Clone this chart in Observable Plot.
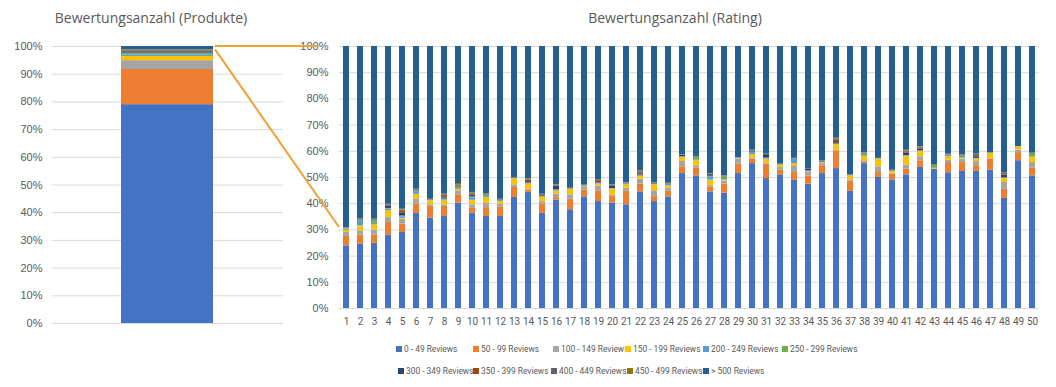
<!DOCTYPE html>
<html><head><meta charset="utf-8">
<script src="https://cdn.jsdelivr.net/npm/d3@7"></script>
<script src="https://cdn.jsdelivr.net/npm/@observablehq/plot@0.6"></script>
<style>
body{margin:0;background:#fff;}
#wrap{position:relative;width:1056px;height:387px;overflow:hidden;background:#fff;font-family:"Liberation Sans",Arial,sans-serif;}
.title{position:absolute;top:8px;width:300px;font-family:"Open Sans",sans-serif;font-size:14px;color:#595959;text-align:center;white-space:nowrap;line-height:20px;}
.pane{position:absolute;top:0;}
.item{position:absolute;display:flex;align-items:center;white-space:nowrap;font-family:Roboto,sans-serif;font-size:8.4px;color:#595959;line-height:10px;}
.sw{width:6px;height:6px;margin-right:2px;flex:none;}
</style></head><body><div id="wrap"></div><script>
// ---------- data ----------
const seriesNames = ["0 - 49 Reviews","50 - 99 Reviews","100 - 149 Reviews","150 - 199 Reviews","200 - 249 Reviews","250 - 299 Reviews","300 - 349 Reviews","350 - 399 Reviews","400 - 449 Reviews","450 - 499 Reviews","> 500 Reviews"];
const seriesColors = ["#4472C4","#ED7D31","#A5A5A5","#FFC000","#5B9BD5","#70AD47","#264478","#9E480E","#636363","#997300","#255E91"];
const yTicks = [0,0.1,0.2,0.3,0.4,0.5,0.6,0.7,0.8,0.9,1];

const productCategory = ["Produkte"];
const productValues = [79.0,12.7,3.2,1.5,0.6,0.6,0.5,0.2,0.3,0.2,1.2];

const ratings = [1,2,3,4,5,6,7,8,9,10,11,12,13,14,15,16,17,18,19,20,21,22,23,24,25,26,27,28,29,30,31,32,33,34,35,36,37,38,39,40,41,42,43,44,45,46,47,48,49,50];
const r0_49   = [23.9,24.5,24.9,28.1,29.0,36.3,34.5,35.1,40.2,36.4,35.1,35.1,42.4,44.3,36.3,41.3,37.7,42.6,40.8,40.2,39.6,44.5,40.8,42.6,51.5,50.6,44.5,44.0,51.5,55.3,49.6,51.0,49.1,47.5,51.5,53.4,44.7,55.3,50.0,49.1,51.0,53.8,53.1,51.8,52.3,52.3,52.8,42.0,56.4,50.6];
const r50_99  = [3.6,3.6,3.2,4.7,3.2,3.5,4.4,3.8,3.2,1.9,3.4,3.7,3.8,0.9,3.5,1.0,4.0,2.6,4.1,2.5,5.1,3.0,1.9,2.1,2.6,3.0,1.9,3.5,3.6,1.7,5.5,1.8,2.8,3.1,3.0,6.8,4.0,0.7,1.9,2.2,2.2,2.6,0.1,3.9,3.4,2.2,4.2,3.5,3.1,3.0];
const r100_149= [1.5,1.5,1.8,1.9,1.9,1.9,0.7,0.5,1.5,1.3,1.6,1.0,1.0,0.3,1.0,1.3,1.7,1.0,1.9,0.5,1.2,1.9,2.2,1.2,2.0,0.9,0.5,1.2,1.9,0.4,0.5,1.0,2.6,1.3,0.8,0.3,0.4,0.4,2.2,0.3,1.5,1.5,0.1,0.9,1.3,1.6,0.2,2.6,0.9,2.1];
const r150_199= [0.9,1.9,2.0,2.6,0.3,1.9,1.5,1.7,0.6,1.7,2.3,1.0,2.2,2.0,1.6,1.2,2.1,0.3,0.7,2.3,1.3,1.0,2.3,0.9,1.5,1.9,2.1,0.3,0.2,1.3,1.4,0.9,0.8,0.3,0.3,2.0,1.5,1.5,2.9,0.7,3.2,2.1,0.1,1.4,0.2,0.9,2.0,1.5,1.3,1.9];
const r200_249= [0.4,1.7,0.6,0.6,0.6,1.0,0.2,0.4,0.3,1.0,0.4,0.2,0.1,0.2,0.2,0.3,0.1,0.3,0.2,0.2,0.3,0.3,0.2,0.6,0.2,0.2,1.3,0.2,0.2,0.8,0.3,0.1,1.7,0.2,0.2,0.2,0.1,0.2,0.2,0.1,0.3,0.1,0.1,0.5,0.3,0.2,0.1,0.2,0.1,0.2];
const r250_299= [0.3,0.3,1.1,0.3,0.3,0.3,0.1,0.3,0.6,0.4,0.3,0.1,0.1,0.1,0.1,0.2,0.1,0.1,0.1,0.1,0.1,0.2,0.1,0.1,0.1,1.1,0.2,1.0,0.1,0.2,0.1,0.1,0.1,0.1,0.1,0.1,0.1,1.0,0.1,0.1,0.2,0.1,1.1,0.2,0.8,0.1,0.1,0.1,0.0,1.3];
const r300_349= [0.1,0.2,0.2,0.9,1.2,0.2,0.1,0.4,0.3,0.6,0.2,0.3,0.1,0.2,0.3,1.3,0.1,0.2,0.2,1.0,0.2,0.3,0.2,0.1,0.6,0.1,0.6,0.1,0.1,0.3,1.3,0.1,0.1,0.6,0.2,0.5,0.1,0.1,0.0,0.1,1.0,0.6,0.1,0.1,0.2,0.6,0.1,0.9,0.0,0.1];
const r350_399= [0.1,0.1,0.1,0.2,0.8,0.1,0.1,0.5,0.4,0.3,0.1,0.1,0.1,1.0,0.2,0.2,0.1,0.1,0.8,0.2,0.1,0.6,0.2,0.1,0.1,0.1,0.1,0.1,0.0,0.1,0.1,0.1,0.1,0.1,0.1,0.9,0.1,0.1,0.0,0.1,0.4,0.5,0.1,0.1,0.1,0.6,0.0,0.2,0.0,0.1];
const r400_449= [0.1,0.2,0.1,0.3,0.2,0.2,0.1,0.5,0.2,0.4,0.2,0.1,0.1,0.2,0.3,0.3,0.0,0.0,0.1,0.1,0.1,0.4,0.1,0.1,0.1,0.0,0.1,0.1,0.0,0.2,0.1,0.0,0.0,0.0,0.2,0.6,0.0,0.1,0.0,0.1,0.3,0.3,0.0,0.0,0.1,0.3,0.0,0.8,0.0,0.0];
const r450_499= [0.0,0.1,0.1,0.2,0.4,0.1,0.0,0.4,0.4,0.3,0.1,0.1,0.1,0.2,0.1,0.1,0.0,0.0,0.1,0.1,0.1,0.3,0.1,0.0,0.0,0.0,0.2,0.1,0.0,0.1,0.0,0.0,0.0,0.0,0.0,0.2,0.0,0.1,0.0,0.0,0.3,0.1,0.0,0.0,0.0,0.1,0.0,0.1,0.0,0.0];
const r500plus= [69.1,65.9,65.9,60.2,62.1,54.5,58.3,56.4,52.3,55.7,56.3,58.3,50.0,50.6,56.4,52.8,54.1,52.8,51.0,52.8,51.9,47.5,51.9,52.2,41.3,42.1,48.5,49.4,42.4,39.6,41.1,44.9,42.7,46.8,43.6,35.0,49.0,40.5,42.7,47.2,39.6,38.3,45.2,41.1,41.3,41.1,40.5,48.1,38.2,40.7];

// ---------- tables ----------
const ratingSeries = [r0_49,r50_99,r100_149,r150_199,r200_249,r250_299,r300_349,r350_399,r400_449,r450_499,r500plus];
const prodRows = seriesNames.map((s,k)=>({cat:productCategory[0], series:s, value:productValues[k]}));
const ratingRows = [];
ratings.forEach((r,i)=>seriesNames.forEach((s,k)=>ratingRows.push({rating:r, series:s, value:ratingSeries[k][i]})));

const wrap = document.getElementById("wrap");
const axisStyle = {background:"transparent", color:"#595959", fontFamily:"'Liberation Sans', Arial, sans-serif", fontSize:"11px", overflow:"visible"};
const colorScale = {domain: seriesNames, range: seriesColors};

// ---------- left chart ----------
const LEFT_X = 0, RIGHT_X = 290;
const left = Plot.plot({
  width: 300, height: 330,
  marginTop: 46, marginBottom: 7, marginLeft: 52, marginRight: 17,
  style: axisStyle,
  x: {domain: productCategory, paddingInner: 0.6, paddingOuter: 0.3, axis: null, label: null},
  y: {domain: [0,1], axis: null, label: null},
  color: colorScale,
  marks: [
    Plot.gridY(yTicks, {stroke:"#D9D9D9", strokeOpacity:1}),
    Plot.axisY(yTicks, {tickSize:0, tickPadding:10, tickFormat:d3.format(".0%"), fontSize:11, label:null}),
    Plot.barY(prodRows, Plot.stackY({offset:"normalize", x:"cat", y:"value", fill:"series"}))
  ]
});
const leftPane = document.createElement("div");
leftPane.className = "pane"; leftPane.style.left = LEFT_X+"px";
leftPane.appendChild(left); wrap.appendChild(leftPane);

// ---------- right chart ----------
const right = Plot.plot({
  width: 766, height: 330,
  marginTop: 46, marginBottom: 22, marginLeft: 49, marginRight: 17,
  style: axisStyle,
  x: {domain: ratings, paddingInner: 0.55, paddingOuter: 0.275, axis: null, label: null},
  y: {domain: [0,1], axis: null, label: null},
  color: colorScale,
  marks: [
    Plot.gridY(yTicks, {stroke:"#D9D9D9", strokeOpacity:1}),
    Plot.axisY(yTicks, {tickSize:0, tickPadding:11, tickFormat:d3.format(".0%"), fontSize:11, label:null}),
    Plot.axisX(ratings, {tickSize:0, tickPadding:9, fontSize:10, fontFamily:"Roboto, sans-serif", label:null}),
    Plot.barY(ratingRows, Plot.stackY({offset:"normalize", x:"rating", y:"value", fill:"series"}))
  ]
});
const rightPane = document.createElement("div");
rightPane.className = "pane"; rightPane.style.left = RIGHT_X+"px";
rightPane.appendChild(right); wrap.appendChild(rightPane);

// ---------- titles ----------
function addTitle(text, centerX){
  const d = document.createElement("div");
  d.className = "title"; d.textContent = text;
  d.style.left = (centerX-150)+"px";
  wrap.appendChild(d);
}
addTitle("Bewertungsanzahl (Produkte)", 151);
addTitle("Bewertungsanzahl (Rating)", 675);

// ---------- connector lines ----------
const lx = left.scale("x"), ly = left.scale("y");
const rx = right.scale("x"), ry = right.scale("y");
const prodTotal = d3.sum(productValues);
const bar1Total = d3.sum(ratingSeries, s=>s[0]);
const xs = LEFT_X + lx.apply(productCategory[0]) + lx.bandwidth + 2;
const yTopL = ly.apply(1);
const yStartDiag = ly.apply(1 - productValues[10]/prodTotal);
const xEndTop = RIGHT_X + rx.apply(ratings[0]) - 25;
const yTopR = ry.apply(1);
const xEndDiag = RIGHT_X + rx.apply(ratings[0]) - 4;
const yEndDiag = ry.apply(1 - r500plus[0]/bar1Total);
const ov = d3.select(wrap).append("svg")
  .attr("width",1056).attr("height",387)
  .style("position","absolute").style("left","0").style("top","0").style("pointer-events","none");
ov.append("line").attr("x1",xs).attr("y1",yTopL).attr("x2",xEndTop).attr("y2",yTopR)
  .attr("stroke","#F0A030").attr("stroke-width",2);
ov.append("line").attr("x1",xs).attr("y1",yStartDiag).attr("x2",xEndDiag).attr("y2",yEndDiag)
  .attr("stroke","#F0A030").attr("stroke-width",2);

// ---------- legend ----------
const legendRows = [
  {names: seriesNames.slice(0,6), top: 344, lefts: [396,473,553,625,703,782]},
  {names: seriesNames.slice(6),   top: 366, lefts: [398,473,551,627,703]}
];
legendRows.forEach(row=>{
  row.names.forEach((n,j)=>{
    const it = document.createElement("div"); it.className = "item";
    it.style.left = row.lefts[j]+"px"; it.style.top = row.top+"px";
    const sw = document.createElement("span"); sw.className = "sw";
    sw.style.background = seriesColors[seriesNames.indexOf(n)];
    const tx = document.createElement("span"); tx.textContent = n;
    it.appendChild(sw); it.appendChild(tx); wrap.appendChild(it);
  });
});
</script></body></html>
